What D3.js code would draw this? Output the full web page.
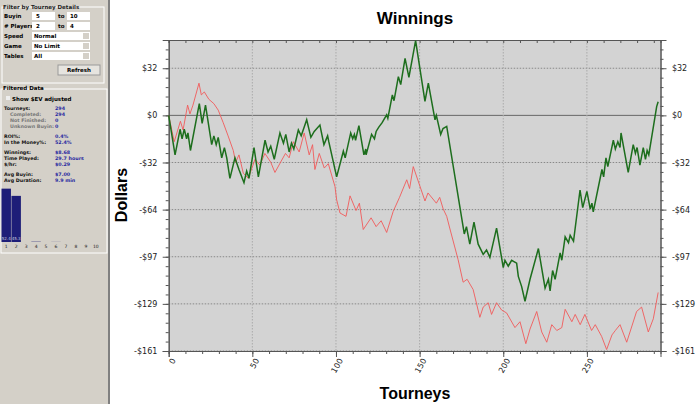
<!DOCTYPE html>
<meta charset="utf-8">
<script src="https://d3js.org/d3.v7.min.js"></script>
<html>
<body style="margin:0;background:#fff">
<div id="chart"></div>
<script>
// winnings (green) and all-in EV line (red)
var greenT = [0,3.8,6.8,8,9.3,10.7,11.5,13,18.3,20,22,25.7,27,28.4,29.6,31.7,33.3,34.7,36.6,39.6,42,45,46.6,48,51,53.6,57.6,59.4,61,63.1,66.5,68.6,70,72,73.4,74.8,77.5,79.2,80.4,82.5,85,87,90.4,92.8,95,95.7,100.4,104.4,105.5,108.8,110,111,111.7,113.7,116.7,117.8,118,121.3,123,124,125.6,127.6,130.3,131,133.7,134.7,137.3,138.7,141.3,143.6,147.6,153.2,155.2,159.2,160,162.6,164,166.2,176.7,178,180,182.5,185,188,190,192,196,200,201,203,205,208,209,211,213,216,221,225,227,228,229.5,231,234,235,237,239,240,242,245.9,247.5,250,252,253,253.8,259,260,261.4,262.5,265.8,267,268.5,269.8,270.4,274.7,277.7,279,280,281.7,283.7,285,286,287,291.7,292.6];
var greenV = [0,-27,-9.5,-16,-9.5,-16,-12,-24,8,-5.5,7,-20,-14,-20,-15,-29,-22,-29,-43,-29,-37,-46,-38,-43,-22,-42,-17,-25,-21,-30,-12,-19,-13,-25,-19,-23,-10,-14,-10,-3,-15,-11,-6.6,-20,-14,-18,-42,-24.5,-29,-12,-16,-13,-17,-7,-27,-23,-27,-13,-16,-11,-8,-5,0.4,-2,14,10,26.5,21,39,26,51,9.5,22,-3,0,-13,-9,-7.5,-81,-76,-88,-73,-88,-95,-92,-97,-77,-104,-99,-103,-99,-101,-110,-117,-127,-112,-91,-118,-112,-120,-106,-112,-94,-99,-83,-87,-82,-86,-51,-63,-52,-64,-60,-66,-37,-42,-29,-35,-17,-23,-18,-22,-12,-39,-20,-26,-22,-34,-22,-30,-24,-27,6,9.3];
var redT = [0,3.3,7,8.6,11.3,12.7,14.5,18.1,19.5,21.3,24,27,29.6,32.6,35.5,38.6,40,42,44.6,47.6,51.6,54.5,57.5,61,63.5,69.8,72,74.5,78,81,84,86,87.4,90,93,95.4,99.4,100.4,102.4,106,108.4,112,114,116.3,121,124,127,130.3,134.2,138,142.3,144,146.2,153.2,155,160,162,164.1,166.2,168,173,176,178.4,182,186,188,191,193,196,199,202,207,210,213.5,216,220,223,226,229,232,235,237,241,243,246,248.8,252.8,255,258.8,261.8,265,267,269.8,273.8,279.7,282.7,286.7,289.7,292.6];
var redV = [0,-18,-4,-10,7,1,7,22,14,16,11,8,3.6,-5,-14,-24,-32,-27,-39.5,-43,-30,-34,-26,-32,-39,-26,-29,-18,-25,-12,-27,-20,-37,-26,-36,-33,-48.6,-57.7,-66.7,-69,-55,-65,-60,-78,-70,-76,-72,-80,-65.6,-56,-44,-50,-35,-58.5,-53,-60,-56,-64,-69,-77,-98.5,-114,-112,-119,-138,-131,-128,-136,-128,-133,-135,-145,-141,-156,-146,-134,-148,-155,-143,-147,-145,-132.5,-141,-136,-143,-136,-147,-143,-151,-160,-150,-147,-143,-155,-134,-131,-148,-139,-121];
var yTicks = [32.2, 0, -32.2, -64.4, -96.6, -128.8, -161];
var yLabels = ["$32", "$0", "-$32", "-$64", "-$97", "-$129", "-$161"];
var xTicks = [0, 50, 100, 150, 200, 250];

// left filter panel values
var filterRows = [["Buyin", "5", "10"], ["# Players", "2", "4"]];
var selectRows = [["Speed", "Normal"], ["Game", "No Limit"], ["Tables", "All"]];
var statLabels = [["Tourneys:", "294", 1], ["Completed:", "294", 0], ["Not Finished:", "0", 0], ["Unknown Buyin:", "0", 0], null,
  ["ROI%:", "0.4%", 1], ["In the Money%:", "52.4%", 1], null, ["Winnings:", "$8.68", 1], ["Time Played:", "29.7 hours", 1],
  ["$/hr:", "$0.29", 1], null, ["Avg Buyin:", "$7.00", 1], ["Avg Duration:", "9.9 min", 1]];
var finishPlaces = [1,2,3,4,5,6,7,8,9,10];
var finishPct = [52.4, 45.3, 0, 0.3, 0, 0.1, 0, 0, 0, 0];

var svg = d3.select("#chart").append("svg").attr("width", 700).attr("height", 404)
  .style("font-family", "'DejaVu Sans', sans-serif");

// ---- left panel
var panel = svg.append("g");
panel.append("rect").attr("width", 108).attr("height", 404).attr("fill", "#d4d0c8");
panel.append("rect").attr("x", 108).attr("width", 2).attr("height", 404).attr("fill", "#808080");
panel.append("rect").attr("x", 2).attr("y", 7).attr("width", 102).attr("height", 76).attr("fill", "none").attr("stroke", "#fff");
panel.append("text").attr("x", 3).attr("y", 9).attr("font-size", 5.5).attr("font-weight", "bold").attr("fill", "#222").text("Filter by Tourney Details");
filterRows.forEach(function(r, i) {
  var y = 16 + i * 10;
  panel.append("text").attr("x", 4).attr("y", y + 2).attr("font-size", 5.5).attr("font-weight", "bold").text(r[0]);
  panel.append("rect").attr("x", 32).attr("y", y - 4).attr("width", 23).attr("height", 8).attr("fill", "#fff");
  panel.append("text").attr("x", 36).attr("y", y + 2).attr("font-size", 5.5).attr("font-weight", "bold").text(r[1]);
  panel.append("text").attr("x", 58).attr("y", y + 2).attr("font-size", 5.5).attr("font-weight", "bold").text("to");
  panel.append("rect").attr("x", 67).attr("y", y - 4).attr("width", 23).attr("height", 8).attr("fill", "#fff");
  panel.append("text").attr("x", 70).attr("y", y + 2).attr("font-size", 5.5).attr("font-weight", "bold").text(r[2]);
});
selectRows.forEach(function(r, i) {
  var y = 36 + i * 10;
  panel.append("text").attr("x", 4).attr("y", y + 2).attr("font-size", 5.5).attr("font-weight", "bold").text(r[0]);
  panel.append("rect").attr("x", 32).attr("y", y - 4).attr("width", 58).attr("height", 8).attr("fill", "#fff");
  panel.append("rect").attr("x", 83).attr("y", y - 3).attr("width", 6).attr("height", 6).attr("fill", "#d4d0c8");
  panel.append("text").attr("x", 34).attr("y", y + 2).attr("font-size", 5.5).attr("font-weight", "bold").text(r[1]);
});
panel.append("rect").attr("x", 58).attr("y", 65).attr("width", 42).attr("height", 10).attr("fill", "#e6e4df").attr("stroke", "#999");
panel.append("text").attr("x", 79).attr("y", 72).attr("text-anchor", "middle").attr("font-size", 5.5).attr("font-weight", "bold").text("Refresh");
panel.append("rect").attr("x", 1).attr("y", 89).attr("width", 106).attr("height", 164).attr("fill", "none").attr("stroke", "#fff");
panel.append("text").attr("x", 3).attr("y", 90).attr("font-size", 5.5).attr("font-weight", "bold").text("Filtered Data");
panel.append("rect").attr("x", 6).attr("y", 96).attr("width", 4).attr("height", 4).attr("fill", "#eee");
panel.append("text").attr("x", 12).attr("y", 101).attr("font-size", 5.5).attr("font-weight", "bold").text("Show $EV adjusted");
var sy = 110;
statLabels.forEach(function(s) {
  if (!s) { sy += 4; return; }
  panel.append("text").attr("x", s[2] ? 4 : 10).attr("y", sy).attr("font-size", 4.8).attr("font-weight", "bold")
    .attr("fill", s[2] ? "#111" : "#777").text(s[0]);
  panel.append("text").attr("x", 55).attr("y", sy).attr("font-size", 4.8).attr("font-weight", "bold").attr("fill", "#2828a0").text(s[1]);
  sy += 6;
});
var hx = d3.scaleBand().domain(finishPlaces).range([1, 101]).padding(0.05);
var hy = d3.scaleLinear().domain([0, 55]).range([242, 186]);
panel.selectAll(".hb").data(finishPct).enter().append("rect")
  .attr("x", function(d, i) { return hx(finishPlaces[i]); })
  .attr("y", function(d) { return hy(d); })
  .attr("width", hx.bandwidth()).attr("height", function(d) { return 242 - hy(d); })
  .attr("fill", "#1e1e78");
panel.selectAll(".hv").data(finishPct.slice(0, 2)).enter().append("text")
  .attr("x", function(d, i) { return hx(finishPlaces[i]) + hx.bandwidth() / 2; }).attr("y", 240)
  .attr("text-anchor", "middle").attr("font-size", 4).attr("fill", "#ccd").text(function(d) { return d; });
panel.selectAll(".hl").data(finishPlaces).enter().append("text")
  .attr("x", function(d) { return hx(d) + hx.bandwidth() / 2; }).attr("y", 248)
  .attr("text-anchor", "middle").attr("font-size", 4.5).attr("fill", "#222").text(function(d) { return d; });

// ---- chart
var x = d3.scaleLinear().domain([0, 294]).range([168.7, 660.5]);
var y = d3.scaleLinear().domain([-161, 51.5]).range([351, 40]);
var g = svg.append("g");
g.append("rect").attr("x", x(0)).attr("y", y(51.5)).attr("width", x(294) - x(0)).attr("height", y(-161) - y(51.5)).attr("fill", "#d3d3d3");
g.selectAll(".gy").data(yTicks).enter().append("line")
  .attr("x1", x(0)).attr("x2", x(294)).attr("y1", function(d) { return y(d); }).attr("y2", function(d) { return y(d); })
  .attr("stroke", function(d) { return d === 0 ? "#666" : "#888"; })
  .attr("stroke-dasharray", function(d) { return d === 0 ? null : "1.5,1.5"; });
g.selectAll(".gx").data(xTicks.slice(1)).enter().append("line")
  .attr("x1", function(d) { return x(d); }).attr("x2", function(d) { return x(d); })
  .attr("y1", y(51.5)).attr("y2", y(-161)).attr("stroke", "#aaa").attr("stroke-dasharray", "1.5,1.5");

// axes
var minorY = d3.range(-161, 51.5, 6.44);
var yl = d3.axisLeft(y).tickValues(yTicks).tickFormat(function(d, i) { return yLabels[i]; }).tickSize(6);
var yr = d3.axisRight(y).tickValues(yTicks).tickFormat(function(d, i) { return yLabels[i]; }).tickSize(6);
g.append("g").attr("transform", "translate(" + x(0) + ",0)").call(d3.axisLeft(y).tickValues(minorY).tickFormat("").tickSize(3));
g.append("g").attr("transform", "translate(" + x(294) + ",0)").call(d3.axisRight(y).tickValues(minorY).tickFormat("").tickSize(3));
var gl = g.append("g").attr("transform", "translate(" + x(0) + ",0)").call(yl);
var gr = g.append("g").attr("transform", "translate(" + x(294) + ",0)").call(yr);
var minorX = d3.range(0, 295, 10);
g.append("g").attr("transform", "translate(0," + y(-161) + ")").call(d3.axisBottom(x).tickValues(minorX).tickFormat("").tickSize(3));
g.append("g").attr("transform", "translate(0," + y(51.5) + ")").call(d3.axisBottom(x).tickValues(minorX).tickFormat("").tickSize(3));
var gb = g.append("g").attr("transform", "translate(0," + y(-161) + ")").call(d3.axisBottom(x).tickValues(xTicks).tickSize(6));
gb.selectAll("text").attr("transform", "rotate(-60)").attr("text-anchor", "end").attr("dx", "-0.6em").attr("dy", "0.2em");
svg.selectAll(".domain").attr("stroke", "#555");
svg.selectAll(".tick line").attr("stroke", "#555");
svg.selectAll(".tick text").attr("font-size", 8).attr("fill", "#222").attr("font-family", "'DejaVu Sans', sans-serif");
gl.selectAll("text").attr("dx", "-0.3em");
gr.selectAll("text").attr("dx", "0.3em");

var line = d3.line().x(function(d) { return x(d[0]); }).y(function(d) { return y(d[1]); });
g.append("path").datum(d3.zip(redT, redV)).attr("d", line).attr("fill", "none").attr("stroke", "#f05a5a").attr("stroke-width", 0.9);
g.append("path").datum(d3.zip(greenT, greenV)).attr("d", line).attr("fill", "none").attr("stroke", "#1d6e1d").attr("stroke-width", 1.5);

svg.append("text").attr("x", 415).attr("y", 24).attr("text-anchor", "middle").attr("font-size", 17)
  .attr("font-weight", "bold").attr("font-family", "'Liberation Sans', Arial, sans-serif").text("Winnings");
svg.append("text").attr("x", 415).attr("y", 399).attr("text-anchor", "middle").attr("font-size", 16)
  .attr("font-weight", "bold").attr("font-family", "'Liberation Sans', Arial, sans-serif").text("Tourneys");
svg.append("text").attr("transform", "translate(127,195) rotate(-90)").attr("text-anchor", "middle").attr("font-size", 16)
  .attr("font-weight", "bold").attr("font-family", "'Liberation Sans', Arial, sans-serif").text("Dollars");
</script>
</body>
</html>
